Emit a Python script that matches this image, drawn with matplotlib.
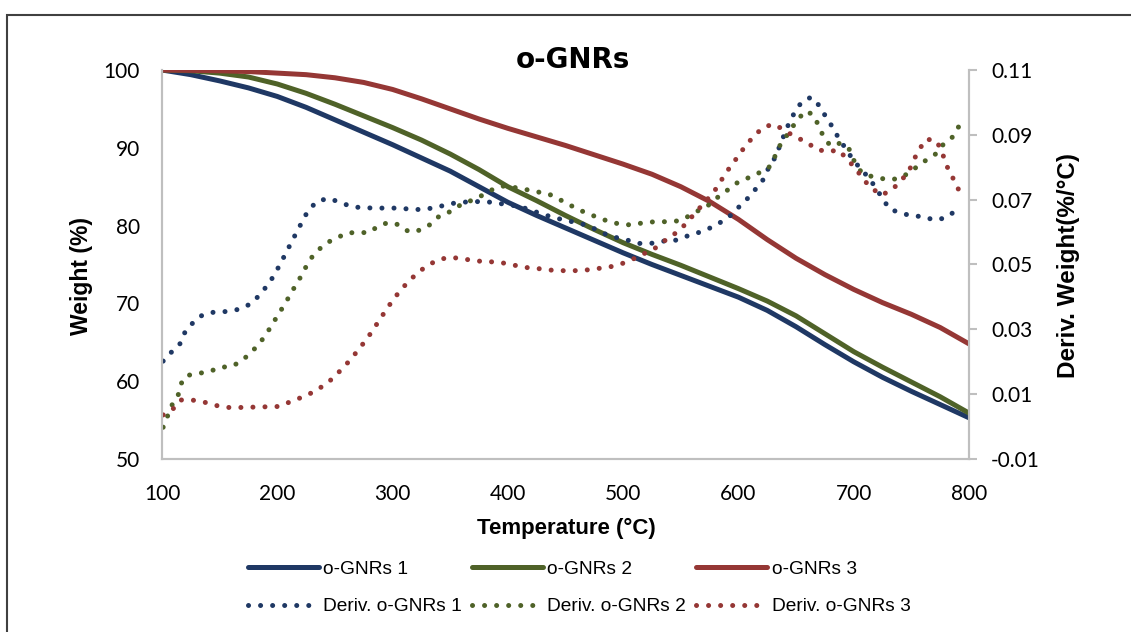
import numpy as np
import matplotlib
matplotlib.use("Agg")
import matplotlib.pyplot as plt
from matplotlib.patches import Rectangle

# --------------------------
# DATA
# --------------------------
# weight curves, left axis (%)
temp_w = [100, 125, 150, 175, 200, 225, 250, 275, 300, 325, 350, 375, 400, 425, 450,
          475, 500, 525, 550, 575, 600, 625, 650, 675, 700, 725, 750, 775, 800]
weight_1 = [100, 99.4, 98.6, 97.7, 96.6, 95.2, 93.6, 92.0, 90.4, 88.7, 87.0, 85.0, 83.0, 81.3, 79.7,
            78.1, 76.5, 75.0, 73.6, 72.2, 70.8, 69.1, 67.0, 64.7, 62.5, 60.5, 58.7, 57.0, 55.3]
weight_2 = [100, 99.9, 99.6, 99.1, 98.2, 97.0, 95.6, 94.1, 92.6, 91.0, 89.2, 87.2, 85.0, 83.2, 81.3,
            79.5, 77.8, 76.3, 74.9, 73.4, 71.9, 70.3, 68.4, 66.1, 63.8, 61.8, 59.9, 58.0, 55.9]
weight_3 = [100, 99.95, 99.9, 99.8, 99.6, 99.4, 99.0, 98.4, 97.5, 96.3, 95.0, 93.7, 92.5, 91.4, 90.3,
            89.1, 87.9, 86.6, 85.0, 83.1, 80.8, 78.2, 75.8, 73.7, 71.8, 70.1, 68.6, 66.9, 64.8]

# derivative curves, right axis (%/°C)
temp_d1 = [101, 108, 116, 120, 127, 135, 145, 156, 167, 176, 184, 191, 197, 202, 207, 212, 217, 222, 227,
           235, 245, 254, 265, 275, 286, 297, 307, 318, 329, 339, 349, 360, 370, 381, 391, 402, 412, 432,
           442, 453, 463, 473, 483, 493, 503, 513, 524, 534, 544, 554, 565, 575, 584, 593, 600, 608, 615,
           622, 626, 632, 636, 640, 644, 649, 655, 663, 671, 676, 682, 687, 693, 699, 706, 713, 719, 725,
           731, 740, 750, 760, 770, 780, 788]
deriv_1 = [0.0202, 0.0229, 0.0257, 0.0292, 0.0321, 0.0344, 0.0353, 0.0355, 0.0362, 0.0377, 0.0403, 0.0434,
           0.0465, 0.0498, 0.0532, 0.0567, 0.0601, 0.0635, 0.0668, 0.0696, 0.0704, 0.0692, 0.0678, 0.0675,
           0.0674, 0.0674, 0.0674, 0.0669, 0.0671, 0.0677, 0.0687, 0.0692, 0.0694, 0.0694, 0.0689, 0.0684,
           0.0677, 0.0653, 0.0643, 0.0634, 0.0627, 0.0614, 0.0596, 0.0584, 0.0576, 0.0565, 0.0565, 0.0572,
           0.0573, 0.0586, 0.0598, 0.0612, 0.0629, 0.0651, 0.0676, 0.0704, 0.0733, 0.0764, 0.0797, 0.0831,
           0.0867, 0.0903, 0.0937, 0.0971, 0.1002, 0.1016, 0.0987, 0.0954, 0.0922, 0.0889, 0.0858, 0.0825,
           0.0795, 0.0768, 0.0737, 0.0704, 0.0671, 0.0660, 0.0650, 0.0648, 0.0637, 0.0644, 0.0665]

temp_d2 = [101, 105, 109, 114, 117, 121, 131, 141, 150, 160, 168, 176, 184, 190, 196, 201, 207, 212, 218,
           223, 228, 235, 243, 251, 261, 271, 280, 288, 297, 306, 314, 324, 333, 341, 350, 359, 368, 377,
           386, 395, 405, 415, 423, 434, 442, 452, 461, 470, 479, 488, 498, 508, 519, 529, 539, 549, 559,
           567, 576, 584, 592, 600, 609, 618, 626, 631, 635, 641, 647, 653, 659, 666, 670, 675, 680, 688,
           696, 700, 706, 713, 723, 732, 741, 748, 755, 764, 772, 778, 786, 791]
deriv_2 = [-0.0002, 0.0034, 0.0069, 0.0097, 0.0135, 0.0157, 0.0164, 0.0169, 0.0183, 0.0185, 0.0200, 0.0224,
           0.0254, 0.0283, 0.0317, 0.0347, 0.0380, 0.0413, 0.0447, 0.0480, 0.0514, 0.0543, 0.0567, 0.0581,
           0.0598, 0.0598, 0.0599, 0.0620, 0.0630, 0.0622, 0.0601, 0.0606, 0.0624, 0.0651, 0.0663, 0.0684,
           0.0697, 0.0712, 0.0730, 0.0742, 0.0738, 0.0732, 0.0725, 0.0720, 0.0706, 0.0687, 0.0670, 0.0656,
           0.0644, 0.0632, 0.0624, 0.0622, 0.0630, 0.0632, 0.0632, 0.0635, 0.0653, 0.0670, 0.0687, 0.0714,
           0.0733, 0.0755, 0.0768, 0.0783, 0.0797, 0.0828, 0.0862, 0.0893, 0.0925, 0.0954, 0.0974, 0.0958,
           0.0922, 0.0887, 0.0866, 0.0874, 0.0856, 0.0822, 0.0788, 0.0774, 0.0766, 0.0761, 0.0768, 0.0783,
           0.0802, 0.0825, 0.0843, 0.0872, 0.0894, 0.0925]

temp_d3 = [101, 110, 116, 126, 137, 147, 158, 169, 179, 190, 201, 211, 221, 231, 240, 249, 256, 264, 270,
           277, 283, 289, 295, 301, 308, 315, 323, 332, 342, 351, 362, 372, 383, 394, 404, 415, 425, 436,
           447, 458, 468, 479, 489, 500, 510, 519, 529, 537, 546, 554, 561, 568, 575, 582, 587, 593, 600,
           606, 613, 621, 630, 640, 649, 659, 667, 677, 687, 695, 702, 708, 715, 724, 733, 741, 748, 752,
           757, 763, 772, 777, 780, 785, 790, 794]
deriv_3 = [0.0036, 0.0056, 0.0082, 0.0082, 0.0075, 0.0065, 0.0059, 0.0059, 0.0060, 0.0061, 0.0062, 0.0076,
           0.0090, 0.0106, 0.0126, 0.0151, 0.0178, 0.0208, 0.0236, 0.0267, 0.0298, 0.0331, 0.0363, 0.0394,
           0.0425, 0.0452, 0.0478, 0.0501, 0.0517, 0.0522, 0.0517, 0.0511, 0.0509, 0.0506, 0.0499, 0.0491,
           0.0488, 0.0483, 0.0481, 0.0481, 0.0483, 0.0488, 0.0493, 0.0504, 0.0519, 0.0535, 0.0553, 0.0576,
           0.0598, 0.0624, 0.0653, 0.0681, 0.0709, 0.0740, 0.0771, 0.0802, 0.0835, 0.0866, 0.0894, 0.0922,
           0.0933, 0.0915, 0.0893, 0.0879, 0.0856, 0.0848, 0.0853, 0.0822, 0.0795, 0.0764, 0.0737, 0.0714,
           0.0730, 0.0758, 0.0789, 0.0822, 0.0856, 0.0887, 0.0881, 0.0843, 0.0809, 0.0774, 0.0739, 0.0704]

labels = ["o-GNRs 1", "o-GNRs 2", "o-GNRs 3"]
colors = ["#1F3864", "#4F6228", "#953735"]

# --------------------------
# FIGURE
# --------------------------
W, H = 1131, 632
fig = plt.figure(figsize=(W / 100, H / 100), dpi=100)
ax = fig.add_axes([162 / W, 1 - 459 / H, (969 - 162) / W, (459 - 70) / H])
ax2 = ax.twinx()

tick_family = ["Lato", "DejaVu Sans"]
label_family = ["Liberation Sans", "DejaVu Sans"]

weights = [weight_1, weight_2, weight_3]
derivs = [(temp_d1, deriv_1), (temp_d2, deriv_2), (temp_d3, deriv_3)]

solid_lines, dotted_lines = [], []
for w, c, lab in zip(weights, colors, labels):
    ln, = ax.plot(temp_w, w, color=c, lw=3.6, solid_capstyle="round", solid_joinstyle="round", label=lab)
    solid_lines.append(ln)
for (t, d), c, lab in zip(derivs, colors, labels):
    ln, = ax2.plot(t, d, color=c, lw=3.6, linestyle=(0, (0.01, 2.4)), dash_capstyle="round",
                   label="Deriv. " + lab)
    dotted_lines.append(ln)

# axes limits / ticks
ax.set_xlim(100, 800)
ax.set_ylim(50, 100)
ax2.set_ylim(-0.01, 0.11)
ax.set_xticks(np.arange(100, 801, 100))
ax.set_yticks(np.arange(50, 101, 10))
rticks = np.round(np.arange(-0.01, 0.111, 0.02), 2)
ax2.set_yticks(rticks)
ax2.set_yticklabels([f"{v:.2f}" for v in rticks])

for a in (ax, ax2):
    for s in a.spines.values():
        s.set_color("#BFBFBF")
        s.set_linewidth(1.5)
    a.spines["top"].set_visible(False)
ax.tick_params(axis="x", length=0, pad=18)
ax.tick_params(axis="y", length=0, pad=16)
ax2.tick_params(axis="y", length=6, width=1.5, color="#BFBFBF", pad=10)
for lbl in ax.get_xticklabels() + ax.get_yticklabels() + ax2.get_yticklabels():
    lbl.set_fontfamily(tick_family)
    lbl.set_fontsize(15)
    lbl.set_color("black")

# texts
fig.text(573 / W, 1 - 60 / H, "o-GNRs", ha="center", va="center", fontsize=20, fontweight="bold",
         family=["DejaVu Sans"])
fig.text(82 / W, 1 - 276 / H, "Weight (%)", rotation=90, ha="center", va="center",
         family=label_family, fontweight="bold", fontsize=16.5)
fig.text(1068 / W, 1 - 265 / H, "Deriv. Weight(%/°C)", rotation=90, ha="center", va="center",
         family=label_family, fontweight="bold", fontsize=17.5)
fig.text(566 / W, 1 - 528 / H, "Temperature (°C)", ha="center", va="center",
         family=label_family, fontweight="bold", fontsize=16)

# legend: 2 rows x 3 columns
handles = [solid_lines[0], dotted_lines[0], solid_lines[1], dotted_lines[1], solid_lines[2], dotted_lines[2]]
fig.legend(handles, [h.get_label() for h in handles], ncol=3, loc="center",
           bbox_to_anchor=(579 / W, 1 - 588 / H), frameon=False,
           prop={"family": label_family, "size": 13.8}, handlelength=3.7, handletextpad=0.25,
           columnspacing=0.5, labelspacing=1.05)

# outer chart border
fig.patches.append(Rectangle((7 / W, -0.2), 1.2, 1.2 - 15 / H, transform=fig.transFigure,
                             fill=False, edgecolor="#404040", linewidth=1.5))

fig.savefig("out.png", dpi=100)
